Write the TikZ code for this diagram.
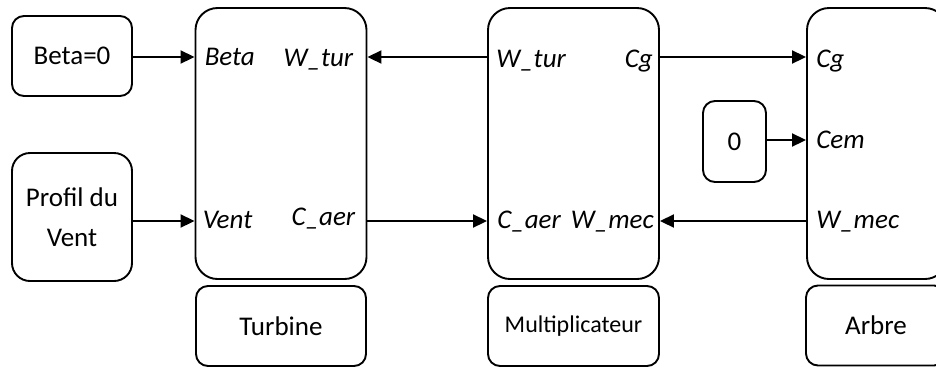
\documentclass[tikz,border=0pt]{standalone}
\usepackage{fontspec}
\setmainfont{Carlito}
\usetikzlibrary{arrows.meta}
\tikzset{
  blk/.style={draw, line width=1.9pt, rounded corners=12pt, inner sep=0pt, align=center, font=\fontsize{27}{40}\selectfont},
  bigblk/.style={blk, rounded corners=22pt},
  arr/.style={line width=1.9pt, -{Triangle[length=14pt,width=13pt]}},
  port/.style={inner sep=0pt, font=\fontsize{27}{30}\selectfont\itshape},
}
\begin{document}
\begin{tikzpicture}[x=1pt,y=-1pt]
\useasboundingbox (0,0) rectangle (936,368);
\clip (0,0) rectangle (936,368);
% rows
\coordinate (r1) at (0,57);
\coordinate (r2) at (0,221);
\coordinate (r3) at (0,140);
% source blocks
\node[blk, minimum width=120pt, minimum height=80pt] (beta) at (72,56) {Beta=0};
\node[blk, minimum width=120pt, minimum height=128pt, rounded corners=18pt] (profil) at (72,217) {Profil du\\Vent};
% main blocks
\node[bigblk, minimum width=171pt, minimum height=271pt] (turb) at (281,143.5) {};
\node[blk, minimum width=170pt, minimum height=80pt] (turbl) at (281,326) {Turbine};
\node[bigblk, minimum width=171pt, minimum height=271pt] (mult) at (573.5,143.5) {};
\node[blk, minimum width=171pt, minimum height=80pt, font=\fontsize{24}{28}\selectfont] (multl) at (573.5,326) {Multiplicateur};
\node[bigblk, minimum width=140pt, minimum height=271pt] (arb) at (877,143.5) {};
\node[blk, minimum width=140pt, minimum height=80pt] (arbl) at (876,325.5) {Arbre};
\node[blk, minimum width=63pt, minimum height=81pt] (zero) at (734.5,141.5) {0};
% connectors
\draw[arr] (beta.east |- r1) -- (turb.west |- r1);
\draw[arr] (profil.east |- r2) -- (turb.west |- r2);
\draw[arr] (mult.west |- r1) -- (turb.east |- r1);
\draw[arr] (turb.east |- r2) -- (mult.west |- r2);
\draw[arr] (mult.east |- r1) -- (arb.west |- r1);
\draw[arr] (arb.west |- r2) -- (mult.east |- r2);
\draw[arr] (zero.east |- r3) -- (arb.west |- r3);
% port labels
\node[port, anchor=base west] (pbeta) at ([xshift=10pt,yshift=-8pt]turb.west |- r1) {Beta};
\node[port, anchor=base east] (pwt1) at ([xshift=-14pt,yshift=-9pt]turb.east |- r1) {W\_tur};
\node[port, anchor=base west] (pvent) at ([xshift=8pt,yshift=-7pt]turb.west |- r2) {Vent};
\node[port, anchor=base east] (pca1) at ([xshift=-12pt,yshift=-4pt]turb.east |- r2) {C\_aer};
\node[port, anchor=base west] (pwt2) at ([xshift=9pt,yshift=-10pt]mult.west |- r1) {W\_tur};
\node[port, anchor=base east] (pcg1) at ([xshift=-7pt,yshift=-10pt]mult.east |- r1) {Cg};
\node[port, anchor=base west] (pca2) at ([xshift=10pt,yshift=-7pt]mult.west |- r2) {C\_aer};
\node[port, anchor=base east] (pwm1) at ([xshift=-6pt,yshift=-7pt]mult.east |- r2) {W\_mec};
\node[port, anchor=base west] (pcg2) at ([xshift=10pt,yshift=-10pt]arb.west |- r1) {Cg};
\node[port, anchor=base west] (pcem) at ([xshift=10pt,yshift=-8pt]arb.west |- r3) {Cem};
\node[port, anchor=base west] (pwm2) at ([xshift=10pt,yshift=-7pt]arb.west |- r2) {W\_mec};
\end{tikzpicture}
\end{document}
